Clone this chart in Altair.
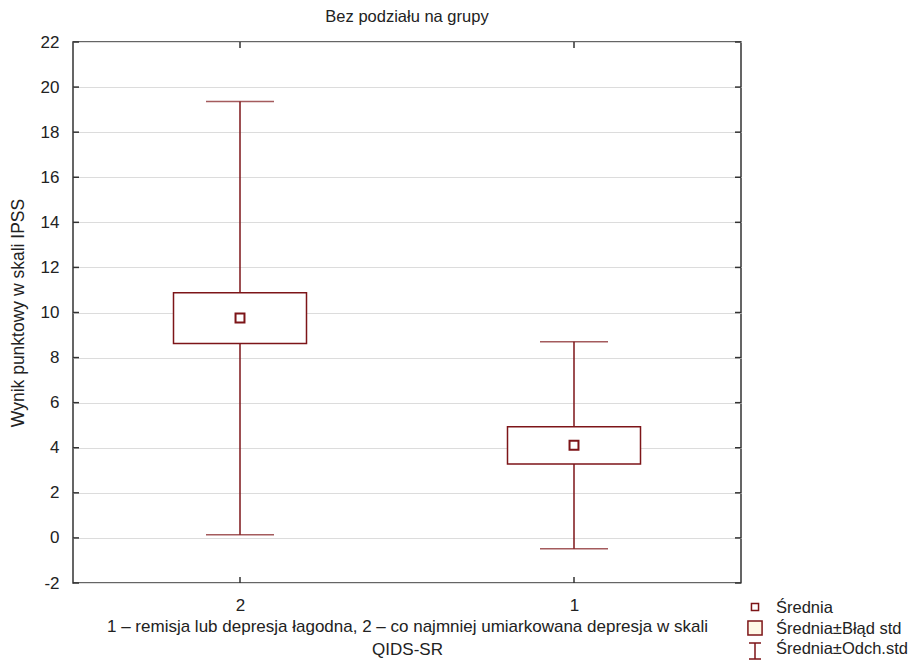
import altair as alt
import pandas as pd

# ---- data ----
groups = ["2", "1"]
means = [9.76, 4.11]
se_lo = [8.62, 3.28]
se_hi = [10.88, 4.93]
sd_lo = [0.14, -0.48]
sd_hi = [19.36, 8.70]
y_ticks = [-2, 0, 2, 4, 6, 8, 10, 12, 14, 16, 18, 20, 22]
legend_labels = ["Średnia", "Średnia±Błąd std", "Średnia±Odch.std"]

title_text = "Bez podziału na grupy"
y_title = "Wynik punktowy w skali IPSS"
x_title = ["1 – remisja lub depresja łagodna, 2 – co najmniej umiarkowana depresja w skali", "QIDS-SR"]

df = pd.DataFrame({"g": groups, "mean": means, "se_lo": se_lo, "se_hi": se_hi,
                   "sd_lo": sd_lo, "sd_hi": sd_hi})
ticks_df = pd.DataFrame({"v": y_ticks})
grp_df = pd.DataFrame({"g": groups})

FONT = "Liberation Sans, Arial, sans-serif"
RED = "#7d1518"
TXT = "#222"
W, H = 668, 541

xs = alt.Scale(type="point", domain=groups, padding=0.5)
ys = alt.Scale(domain=[-2, 22], nice=False, zero=False)

x_axis = alt.Axis(title=x_title, ticks=False, domain=False, grid=False,
                  labelAngle=0, labelFontSize=17, labelPadding=14,
                  titleFontSize=17, titleFontWeight="normal",
                  titleLineHeight=23, titlePadding=5,
                  labelFont=FONT, titleFont=FONT, labelColor=TXT, titleColor=TXT)
y_axis = alt.Axis(title=y_title, values=y_ticks, ticks=False, domain=False,
                  grid=True, gridColor="#dcdcdc", gridWidth=1,
                  labelExpr="datum.value + ''",
                  labelFontSize=17, labelPadding=14, labelFont=FONT,
                  titleFont=FONT, titleFontSize=17.5, titleFontWeight="normal",
                  titlePadding=13, labelColor=TXT, titleColor=TXT)


def X():
    return alt.X("g:N", scale=xs, sort=groups, axis=x_axis)


def Y(field):
    return alt.Y(field, type="quantitative", scale=ys, axis=y_axis)


base = alt.Chart(df)

whisker = base.mark_rule(color=RED, strokeWidth=1.5).encode(
    x=X(), y=Y("sd_lo"), y2="sd_hi:Q")
cap_hi = base.mark_tick(color=RED, orient="horizontal", size=68, thickness=1.5).encode(
    x=X(), y=Y("sd_hi"))
cap_lo = base.mark_tick(color=RED, orient="horizontal", size=68, thickness=1.5).encode(
    x=X(), y=Y("sd_lo"))
box = base.mark_bar(size=133, fill="white", stroke=RED, strokeWidth=1.5).encode(
    x=X(), y=Y("se_lo"), y2="se_hi:Q")
mean_pt = base.mark_point(shape="square", size=80, filled=False, color=RED,
                          strokeWidth=2, opacity=1).encode(x=X(), y=Y("mean"))

# inward ticks on the frame
tk = alt.Chart(ticks_df).mark_rule(color="#333", strokeWidth=1.5)
left_ticks = tk.encode(y=Y("v"), x=alt.value(0), x2=alt.value(6))
right_ticks = tk.encode(y=Y("v"), x=alt.value(W - 6), x2=alt.value(W))
gk = alt.Chart(grp_df).mark_rule(color="#333", strokeWidth=1.5)
top_ticks = gk.encode(x=X(), y=alt.value(0), y2=alt.value(6))
bot_ticks = gk.encode(x=X(), y=alt.value(H - 6), y2=alt.value(H))

# manual legend (outside plot area, bottom right)
LX = 682
leg_small = alt.Chart(pd.DataFrame({"label": [legend_labels[0]]})).mark_point(
    shape="square", size=50, filled=False, color=RED, strokeWidth=1.5, opacity=1).encode(
    x=alt.value(LX), y=alt.value(565))
leg_big = alt.Chart(pd.DataFrame({"label": [legend_labels[1]]})).mark_point(
    shape="square", size=200, filled=True, fill="#fff8e6", stroke=RED, strokeWidth=1.5,
    opacity=1).encode(x=alt.value(LX), y=alt.value(586))
leg_ibeam = alt.Chart(pd.DataFrame({"label": [legend_labels[2]]})).mark_point(
    shape="M-0.75,-1H0.75M0,-1V1M-0.75,1H0.75", size=256, filled=False, color=RED,
    strokeWidth=1.5, opacity=1).encode(x=alt.value(LX), y=alt.value(609))

leg_texts = []
for lab, yy in zip(legend_labels, [566, 587, 607]):
    leg_texts.append(
        alt.Chart(pd.DataFrame({"label": [lab]})).mark_text(
            align="left", baseline="middle", font=FONT, fontSize=16.5, color=TXT).encode(
            text="label:N", x=alt.value(LX + 21), y=alt.value(yy)))

chart = alt.layer(
    whisker, cap_hi, cap_lo, box, mean_pt,
    left_ticks, right_ticks, top_ticks, bot_ticks,
    leg_small, leg_big, leg_ibeam, *leg_texts,
).properties(
    width=W, height=H,
    background="white",
    title=alt.TitleParams(title_text, font=FONT, fontSize=16.5, fontWeight="normal",
                          color=TXT, offset=8),
    autosize=alt.AutoSizeParams(type="none"),
    padding={"left": 65, "top": 34, "right": 173, "bottom": 77},
).configure_view(stroke="#333", strokeWidth=1.5)

chart.save("out.html", embed_options={"renderer": "svg", "actions": False})
